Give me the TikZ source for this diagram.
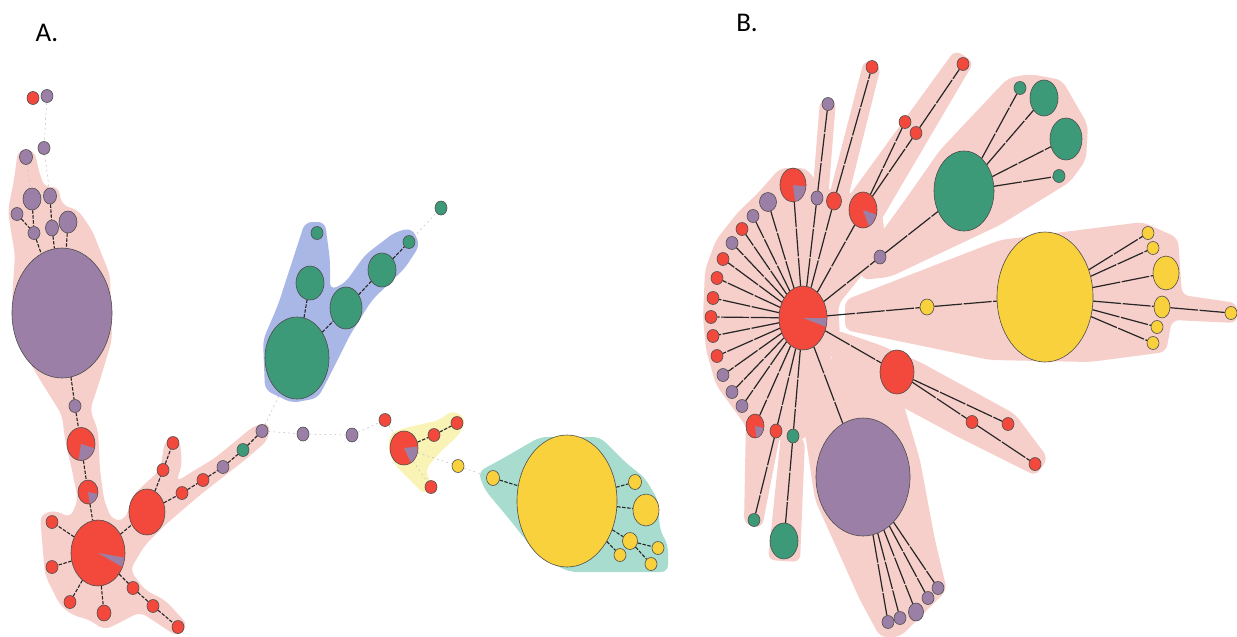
\documentclass[tikz,border=0pt]{standalone}
\usepackage{fontspec}
\setmainfont{Carlito}
\usetikzlibrary{shapes.geometric,calc}
\definecolor{hapred}{HTML}{F2493C}
\definecolor{happur}{HTML}{9C7FA6}
\definecolor{hapgrn}{HTML}{3D9A78}
\definecolor{hapyel}{HTML}{F9D13C}
\definecolor{hullpink}{HTML}{F7CFCA}
\definecolor{hullblue}{HTML}{A9B7E7}
\definecolor{hullgrn}{HTML}{A7DCCF}
\definecolor{hullyel}{HTML}{FAF3B6}
\tikzset{
  hap/.style={ellipse, draw=black!70, line width=0.6pt, inner sep=0pt, minimum width=12pt, minimum height=13pt},
  sz/.style 2 args={minimum width=#1pt, minimum height=#2pt},
  rd/.style={hap, fill=hapred},
  pu/.style={hap, fill=happur},
  gr/.style={hap, fill=hapgrn},
  ye/.style={hap, fill=hapyel},
  dl/.style={draw=black!85, line width=1.1pt, dash pattern=on 3.5pt off 1.5pt},
  fl/.style={draw=black!25, line width=0.5pt, dash pattern=on 2pt off 3pt},
  bl/.style={draw=black!85, line width=1.2pt, dash pattern=on 28pt off 1.5pt},
  hull/.style={rounded corners=7pt},
  lab/.style={font=\fontsize{27}{30}\selectfont, inner sep=0pt},
}
% purple share of a mixed haplotype
\newcommand{\hapslice}[5]{%
  \fill[happur, shift={(#1.center)}] (0,0) -- plot[domain=#4:#5, samples=24] (\x:#2 and #3) -- cycle;}

\begin{document}
\begin{tikzpicture}[x=1pt, y=-1pt]
  \useasboundingbox (0,0) rectangle (1237,637);
  \node[lab] (labA) at (47,33) {A.};
  \node[lab] (labB) at (747,23) {B.};

  % ---- panel A: shaded groups
  \fill[hullpink, hull] (18,150) -- (34,150) -- (40,175) -- (45,188) -- (58,186) -- (62,205) -- (78,210)
    -- (92,230) -- (110,275) -- (112,340) -- (100,380) -- (90,410) -- (98,430) -- (100,470) -- (104,500)
    -- (112,520) -- (125,520) -- (133,495) -- (160,470) -- (165,440) -- (180,440) -- (182,465) -- (176,482)
    -- (195,470) -- (215,458) -- (255,425) -- (270,423) -- (268,440) -- (245,460) -- (200,495) -- (165,525)
    -- (145,545) -- (130,570) -- (145,590) -- (165,600) -- (188,625) -- (178,637) -- (160,625) -- (140,612)
    -- (115,625) -- (104,630) -- (90,620) -- (72,615) -- (60,605) -- (45,575) -- (42,540) -- (40,515)
    -- (55,510) -- (70,518) -- (78,500) -- (72,470) -- (65,440) -- (62,415) -- (40,380) -- (20,345)
    -- (12,300) -- (15,255) -- (10,225) -- (8,210) -- (14,180) -- cycle;
  \fill[hullblue, hull] (305,222) -- (325,222) -- (330,260) -- (330,290) -- (345,283) -- (365,255) -- (395,232)
    -- (412,228) -- (420,245) -- (405,268) -- (372,300) -- (350,335) -- (330,375) -- (318,398) -- (292,403)
    -- (265,390) -- (263,340) -- (278,305) -- (292,262) -- cycle;
  \fill[hullyel, hull] (390,433) -- (405,428) -- (440,420) -- (452,410) -- (466,418) -- (460,434) -- (440,452)
    -- (425,470) -- (432,485) -- (425,495) -- (408,478) -- (395,465) -- (388,450) -- cycle;
  \fill[hullgrn, hull] (478,472) -- (500,460) -- (540,437) -- (600,437) -- (625,462) -- (645,478) -- (658,500)
    -- (660,530) -- (668,545) -- (668,572) -- (640,572) -- (570,572) -- (540,558) -- (510,520) -- (485,490) -- cycle;

  % ---- panel A: haplotypes
  \node[rd] (a1) at (33,98) {};
  \node[pu] (a2) at (47,96) {};
  \node[pu] (a3) at (44,148) {};
  \node[pu, sz={13}{15}] (a4) at (26,157) {};
  \node[pu, sz={18}{22}] (a5) at (32,199) {};
  \node[pu, sz={13}{16}] (a6) at (50,196) {};
  \node[pu] (a7) at (17,214) {};
  \node[pu] (a8) at (34,233) {};
  \node[pu, sz={13}{16}] (a9) at (52,228) {};
  \node[pu, sz={18}{22}] (a10) at (68,222) {};
  \node[pu, sz={100}{130}] (aB) at (62,313) {};
  \node[pu] (a11) at (75,406) {};
  \node[rd, sz={28}{33}] (ap1) at (81,444) {};
  \node[rd, sz={20}{24}] (ap2) at (88,492) {};
  \node[rd, sz={54}{66}] (aA) at (98,553) {};
  \node[rd, sz={36}{46}] (aN) at (147,512) {};
  \foreach \n/\x/\y in {12/52/522, 13/52/567, 14/70/602, 16/133/588, 17/153/606, 18/178/627,
                        19/163/470, 20/173/443, 21/182/493, 22/203/480}
    \node[rd] (a\n) at (\x,\y) {};
  \node[rd, sz={14}{16}] (a15) at (104,613) {};
  \node[pu] (a23) at (223,467) {};
  \node[gr] (a24) at (243,450) {};
  \node[pu] (a25) at (262,431) {};
  \node[pu, sz={12}{14}] (a26) at (303,434) {};
  \node[pu, sz={12}{14}] (a27) at (352,435) {};
  \node[rd] (a28) at (385,420) {};
  \node[rd, sz={28}{34}] (ap3) at (404,448) {};
  \node[rd] (a29) at (434,435) {};
  \node[rd] (a30) at (457,423) {};
  \node[rd] (a31) at (431,487) {};
  \node[ye] (a32) at (458,466) {};
  \node[ye, sz={13}{15}] (a33) at (493,478) {};
  \node[ye, sz={100}{132}] (aRU) at (567,501) {};
  \node[ye, sz={13}{15}] (a34) at (635,482) {};
  \node[ye, sz={26}{32}] (a35) at (646,510) {};
  \node[ye, sz={15}{17}] (a36) at (630,541) {};
  \node[ye] (a37) at (658,548) {};
  \node[ye] (a38) at (651,564) {};
  \node[ye] (a39) at (620,555) {};
  \node[gr] (a40) at (317,233) {};
  \node[gr, sz={28}{34}] (aRC) at (310,283) {};
  \node[gr, sz={64}{82}] (aRR) at (297,358) {};
  \node[gr, sz={32}{42}] (a41) at (346,308) {};
  \node[gr, sz={28}{34}] (a42) at (382,270) {};
  \node[gr] (a43) at (409,242) {};
  \node[gr, sz={12}{14}] (a44) at (441,208) {};
  \hapslice{aA}{26.5}{32.5}{8}{25}
  \hapslice{ap1}{13.5}{16}{15}{100}
  \hapslice{ap2}{9.5}{11.5}{10}{80}
  \hapslice{ap3}{13.5}{16.5}{-5}{60}

  \foreach \a/\b in {a5/a8, a7/a8, a8/aB, a6/a9, a9/aB, a10/aB, aB/a11, a11/ap1, ap1/ap2, ap2/aA,
                     aA/a12, aA/a13, aA/a14, aA/a15, aA/a16, a16/a17, a17/a18, aA/aN, aN/a19, a19/a20,
                     aN/a21, a21/a22, a22/a23, a23/a24, a24/a25, ap3/a29, a29/a30, a33/aRU,
                     aRU/a34, aRU/a35, aRU/a36, aRU/a39, a36/a37, a36/a38,
                     aRR/aRC, aRR/a41, a41/a42, a42/a43}
    \draw[dl] (\a) -- (\b);
  \foreach \a/\b in {a2/a3, a3/a6, a4/a5, a25/aRR, a25/a26, a26/a27, a27/a28, a28/ap3,
                     ap3/a31, ap3/a32, a32/a33, aRC/a40, a43/a44}
    \draw[fl] (\a) -- (\b);

  % ---- panel B: shaded groups
  \fill[hullpink, hull] (703,317) -- (705,270) -- (716,240) -- (738,212) -- (758,193) -- (780,168) -- (806,168)
    -- (822,188) -- (845,192) -- (880,200) -- (885,235) -- (870,265) -- (850,290) -- (838,305) -- (840,335)
    -- (830,360) -- (815,420) -- (805,440) -- (780,440) -- (755,440) -- (738,415) -- (716,385) -- (706,350) -- cycle;
  \fill[hullpink, hull] (812,200) -- (820,100) -- (836,100) -- (828,200) -- cycle;
  \fill[hullpink, hull] (828,200) -- (864,60) -- (881,66) -- (846,206) -- cycle;
  \fill[hullpink, hull] (846,200) -- (955,50) -- (974,62) -- (880,222) -- cycle;
  \fill[hullpink, hull] (860,262) -- (905,200) -- (940,150) -- (1008,78) -- (1030,74) -- (1062,80) -- (1088,125)
    -- (1086,160) -- (1070,182) -- (1000,225) -- (890,277) -- (862,280) -- cycle;
  \fill[hullpink, hull] (845,300) -- (1000,240) -- (1143,222) -- (1178,238) -- (1182,295) -- (1237,303)
    -- (1237,323) -- (1172,320) -- (1166,352) -- (1090,362) -- (990,360) -- (845,330) -- cycle;
  \fill[hullpink, hull] (836,330) -- (880,345) -- (920,362) -- (1015,414) -- (1048,458) -- (1036,476)
    -- (960,438) -- (880,395) -- (826,352) -- cycle;
  \fill[hullpink, hull] (800,400) -- (845,340) -- (900,392) -- (920,460) -- (935,540) -- (947,590)
    -- (900,637) -- (880,637) -- (860,600) -- (815,500) -- cycle;
  \fill[hullpink, hull] (746,418) -- (782,425) -- (762,528) -- (744,524) -- cycle;
  \fill[hullpink, hull] (782,425) -- (805,440) -- (800,562) -- (768,560) -- cycle;

  % ---- panel B: haplotypes
  \node[rd, sz={48}{64}] (bc) at (803,318) {};
  \hapslice{bc}{23.5}{31.5}{0}{16}
  \node[rd, sz={26}{34}] (bp1) at (793,185) {};
  \node[rd, sz={28}{36}] (bp2) at (863,210) {};
  \node[rd, sz={18}{24}] (bp3) at (755,426) {};
  \hapslice{bp1}{12.5}{16.5}{5}{80}
  \hapslice{bp2}{13.5}{17.5}{15}{65}
  \hapslice{bp3}{8.5}{11.5}{10}{80}
  \foreach \p in {bp1, bp2, bp3}
    \draw[bl] (bc) -- (\p);
  \foreach \n/\x/\y/\c/\w/\h in {1/768/202/pu/17/19, 2/753/216/pu/12/13, 3/742/229/rd/12/13, 4/732/243/pu/12/13,
                                 5/723/259/rd/12/13, 6/717/278/rd/12/13, 7/713/298/rd/12/13, 8/711/317/rd/12/13,
                                 9/713/336/rd/12/13, 10/717/356/rd/12/13, 11/723/375/pu/12/13, 12/732/392/pu/12/13,
                                 13/742/406/pu/12/13, 14/817/198/pu/12/14, 15/834/201/rd/15/18, 16/880/257/pu/12/14,
                                 17/927/307/ye/14/16, 18/776/431/rd/12/14, 19/793/436/gr/12/14} {
    \node[\c, sz={\w}{\h}] (b\n) at (\x,\y) {};
    \draw[bl] (bc) -- (b\n);
  }
  \node[pu] (b20) at (828,104) {};
  \node[rd] (b21) at (872,67) {};
  \node[rd] (b22) at (905,122) {};
  \node[rd] (b23) at (916,133) {};
  \node[rd] (b24) at (963,64) {};
  \node[gr, sz={60}{80}] (bG) at (964,191) {};
  \node[gr] (b25) at (1020,88) {};
  \node[gr, sz={28}{36}] (b26) at (1044,98) {};
  \node[gr, sz={32}{42}] (b27) at (1066,139) {};
  \node[gr] (b28) at (1059,176) {};
  \node[ye, sz={96}{130}] (bY) at (1045,297) {};
  \node[ye] (b29) at (1148,233) {};
  \node[ye] (b30) at (1153,248) {};
  \node[ye, sz={26}{34}] (b31) at (1166,273) {};
  \node[ye, sz={16}{22}] (b32) at (1162,307) {};
  \node[ye] (b33) at (1157,327) {};
  \node[ye] (b34) at (1153,343) {};
  \node[ye] (b35) at (1231,313) {};
  \node[rd, sz={34}{44}] (b36) at (897,372) {};
  \node[rd] (b37) at (972,422) {};
  \node[rd] (b38) at (1035,464) {};
  \node[rd] (b39) at (1008,424) {};
  \node[pu, sz={94}{118}] (bP) at (863,477) {};
  \node[pu] (b40) at (888,622) {};
  \node[pu] (b41) at (900,618) {};
  \node[pu, sz={15}{18}] (b42) at (916,612) {};
  \node[pu] (b43) at (928,598) {};
  \node[pu] (b44) at (938,588) {};
  \node[gr] (b45) at (754,520) {};
  \node[gr, sz={28}{36}] (b46) at (784,541) {};
  \foreach \a/\b in {b14/b20, b15/b21, bp2/b22, bp2/b23, b23/b24, b16/bG, bG/b25, bG/b26, bG/b27, bG/b28,
                     b17/bY, bY/b29, bY/b30, bY/b31, bY/b32, bY/b33, bY/b34, b32/b35,
                     bc/b36, b36/b37, b37/b38, b36/b39, bc/bP, bP/b40, bP/b41, bP/b42, bP/b43, bP/b44,
                     b18/b45, b19/b46}
    \draw[bl] (\a) -- (\b);
\end{tikzpicture}
\end{document}
